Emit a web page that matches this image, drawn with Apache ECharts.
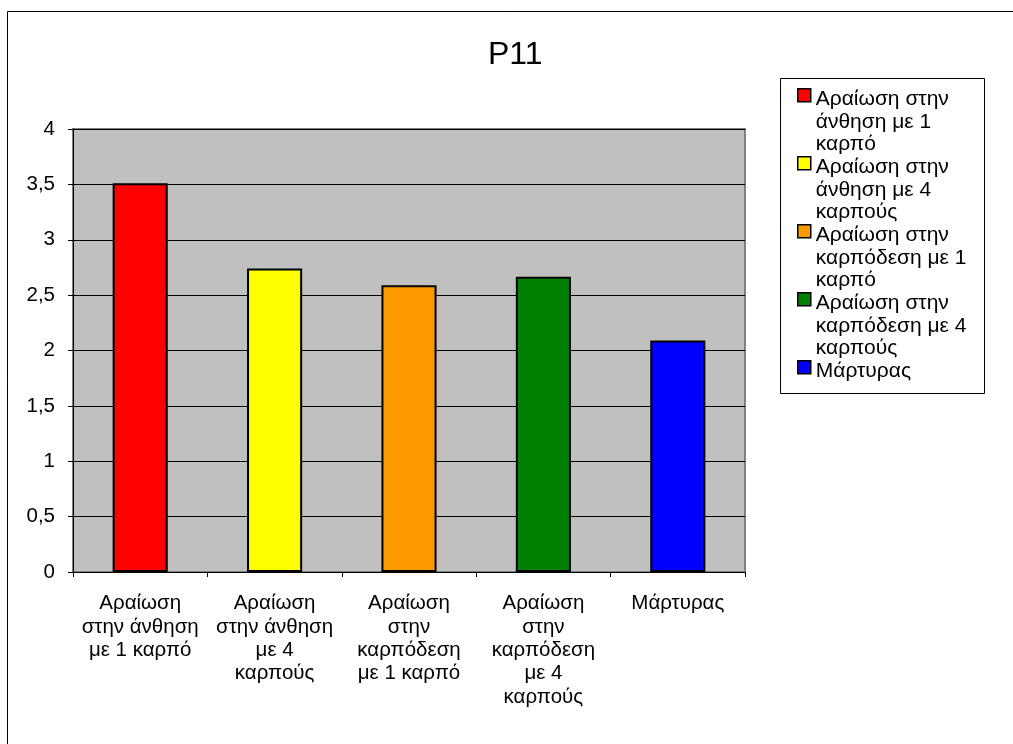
<!DOCTYPE html>
<html>
<head>
<meta charset="utf-8">
<script src="https://cdn.jsdelivr.net/npm/echarts@6/dist/echarts.min.js"></script>
<style>
html,body{margin:0;padding:0;background:#fff;}
#chart{width:1013px;height:744px;}
</style>
</head>
<body>
<div id="chart"></div>
<script>
const title = 'P11';
const categories = [
  'Αραίωση στην άνθηση με 1 καρπό',
  'Αραίωση στην άνθηση με 4 καρπούς',
  'Αραίωση στην καρπόδεση με 1 καρπό',
  'Αραίωση στην καρπόδεση με 4 καρπούς',
  'Μάρτυρας'
];
const axisLabels = [
  'Αραίωση\nστην άνθηση\nμε 1 καρπό',
  'Αραίωση\nστην άνθηση\nμε 4\nκαρπούς',
  'Αραίωση\nστην\nκαρπόδεση\nμε 1 καρπό',
  'Αραίωση\nστην\nκαρπόδεση\nμε 4\nκαρπούς',
  'Μάρτυρας'
];
const legendLabels = [
  'Αραίωση στην\nάνθηση με 1\nκαρπό',
  'Αραίωση στην\nάνθηση με 4\nκαρπούς',
  'Αραίωση στην\nκαρπόδεση με 1\nκαρπό',
  'Αραίωση στην\nκαρπόδεση με 4\nκαρπούς',
  'Μάρτυρας\n\n'
];
const values = [3.51, 2.74, 2.59, 2.665, 2.09];
const colors = ['#FF0000', '#FFFF00', '#FF9900', '#008000', '#0000FF'];
const yTicks = { min: 0, max: 4, interval: 0.5 };

const FONT = 'Liberation Sans, Arial, sans-serif';
const chart = echarts.init(document.getElementById('chart'), null, { renderer: 'canvas' });

const series = categories.map((name, i) => ({
  name: name,
  type: 'bar',
  stack: 'all',
  barWidth: '41%',
  data: categories.map((c, j) => (j === i ? values[i] : null)),
  itemStyle: { color: colors[i], borderColor: '#000', borderWidth: 2 }
}));

const option = {
  animation: false,
  backgroundColor: '#fff',
  textStyle: { fontFamily: FONT },
  title: {
    text: title,
    left: 483,
    top: 34,
    textStyle: { fontFamily: FONT, fontSize: 32, fontWeight: 'normal', color: '#000' }
  },
  graphic: [
    { type: 'rect', left: 5, top: 9, shape: { width: 1100, height: 800 }, style: { fill: 'none', stroke: '#000', lineWidth: 1 }, z: 100 },
    { type: 'rect', left: 780, top: 78, shape: { width: 204, height: 315 }, style: { fill: '#fff', stroke: '#000', lineWidth: 1 }, z: -1 }
  ],
  legend: {
    orient: 'vertical',
    left: 797,
    top: 88,
    padding: 0,
    itemGap: 0.5,
    itemWidth: 13,
    itemHeight: 66,
    data: categories.map((c, i) => ({
      name: c,
      icon: 'path://M0,0 L13,0 L13,13 L0,13 Z M0,66',
      itemStyle: { color: colors[i], borderColor: '#000', borderWidth: 1.5 }
    })),
    formatter: (n) => legendLabels[categories.indexOf(n)],
    textStyle: { fontFamily: FONT, fontSize: 21, lineHeight: 22.2, color: '#000' }
  },
  grid: {
    left: 73, right: 268, top: 129, bottom: 172,
    show: true,
    backgroundColor: '#C0C0C0',
    borderColor: '#808080',
    borderWidth: 2
  },
  xAxis: {
    type: 'category',
    data: categories,
    axisLine: { lineStyle: { color: '#000', width: 1 } },
    axisTick: { show: true, inside: false, length: 5, lineStyle: { color: '#000' } },
    axisLabel: {
      interval: 0,
      margin: 20,
      fontFamily: FONT, fontSize: 20.5, lineHeight: 23.3, color: '#000',
      formatter: (v) => axisLabels[categories.indexOf(v)]
    }
  },
  yAxis: {
    type: 'value',
    min: yTicks.min, max: yTicks.max, interval: yTicks.interval,
    axisLine: { show: true, lineStyle: { color: '#000', width: 1 } },
    axisTick: { show: true, length: 5, lineStyle: { color: '#000' } },
    splitLine: { show: true, lineStyle: { color: '#000', width: 1 } },
    axisLabel: {
      margin: 18,
      fontFamily: FONT, fontSize: 20.5, color: '#000',
      formatter: (v) => String(v).replace('.', ',')
    }
  },
  series: series
};
chart.setOption(option);
</script>
</body>
</html>
